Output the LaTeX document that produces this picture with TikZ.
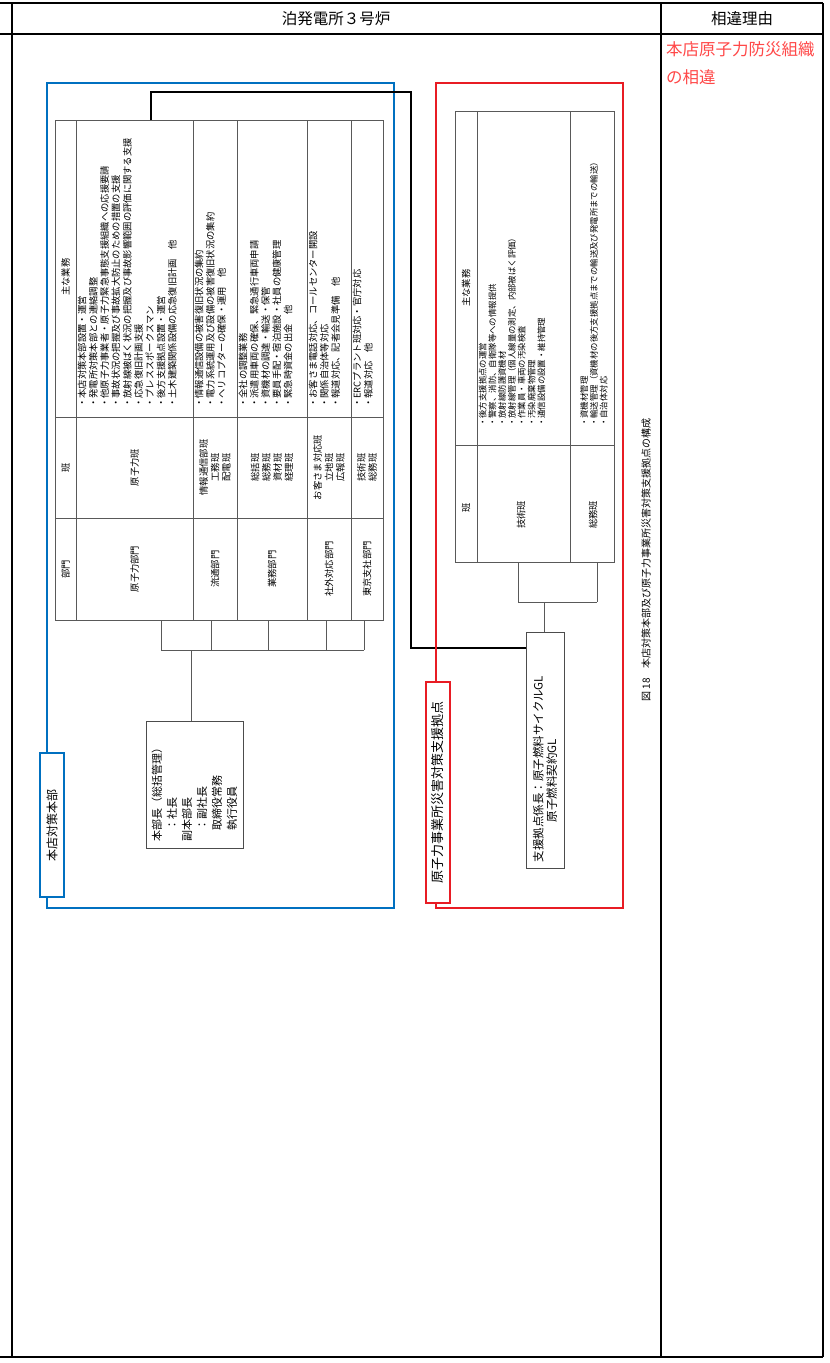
\documentclass[tikz,border=0pt]{standalone}
\usepackage{fontspec}
\setmainfont{Noto Sans CJK JP}
\definecolor{hqblue}{RGB}{0,112,192}
\definecolor{sitered}{RGB}{232,28,36}
\definecolor{notered}{RGB}{255,72,72}

\tikzset{
  rule/.style={line width=1.8pt},
  cell/.style={draw=black!65, line width=0.8pt},
  link/.style={line width=1.6pt},
  vtxt/.style={rotate=90, inner sep=1pt, align=center, font=\fontsize{9.3}{11.3}\selectfont},
  duty/.style={vtxt, anchor=north west, align=left},
  sduty/.style={duty, font=\fontsize{8.4}{9.8}\selectfont},
  chart/.style={draw=black!70, line width=0.9pt, rotate=90, align=left},
  tag/.style={rotate=90, fill=white, line width=1.8pt, inner sep=1pt, minimum height=24pt},
}

\begin{document}
\begin{tikzpicture}[x=1pt, y=-1pt]
\useasboundingbox (0,0) rectangle (830,1363);

% comparison table frame
\draw[rule] (0,3) -- (823,3);
\draw[rule] (0,34) -- (823,34);
\draw[rule] (0,1357) -- (823,1357);
\foreach \x in {12,661,823} \draw[rule] (\x,3) -- (\x,1357);
\node[font=\fontsize{15.5}{18}\selectfont] (plant) at (336,19) {泊発電所３号炉};
\node[font=\fontsize{15.5}{18}\selectfont] (reason) at (742,19) {相違理由};
\node[anchor=north west, align=left, inner sep=1pt, text=notered,
  font=\fontsize{16.5}{28}\selectfont] (diff) at (665,40) {本店原子力防災組織\\の相違};

% link between the two organisations
\coordinate (hqlink) at (151,120);
\coordinate (linkbend) at (411,648);

% 本店対策本部
\draw[hqblue, line width=1.8pt] (47,83) rectangle (394,908);
\draw[cell] (55,120) rectangle (383,620);
\foreach \x in {76,193,237,307,351} \draw[cell] (\x,120) -- (\x,620);
\foreach \y in {417,518} \draw[cell] (55,\y) -- (383,\y);

\node[vtxt] (hdept) at (65.5,569) {部門};
\node[vtxt] (hteam) at (65.5,467.5) {班};
\node[vtxt] (hduty) at (65.5,277) {主な業務};

\node[vtxt] (dnuc) at (134.5,569) {原子力部門};
\node[vtxt] (ddist) at (215,569) {流通部門};
\node[vtxt] (dbiz) at (272,569) {業務部門};
\node[vtxt] (dext) at (329,569) {社外対応部門};
\node[vtxt] (dtok) at (367,569) {東京支社部門};

\node[vtxt] (tnuc) at (134.5,467.5) {原子力班};
\node[vtxt] (tdist) at (215,467.5) {情報通信部班\\工務班\\配電班};
\node[vtxt] (tbiz) at (272,467.5) {総括班\\総務班\\資材班\\経理班};
\node[vtxt] (text) at (329,467.5) {お客さま対応班\\立地班\\広報班};
\node[vtxt] (ttok) at (367,467.5) {技術班\\総務班};

\node[duty] (wnuc) at (76.5,409) {・本店対策本部設置・運営\\
  ・発電所対策本部との連絡調整\\
  ・他原子力事業者・原子力緊急事態支援組織への応援要請\\
  ・事故状況の把握及び事故拡大防止のための措置の支援\\
  ・放射線被ばく状況の把握及び事故影響範囲の評価に関する支援\\
  ・応急復旧計画支援\\
  ・プレススポークスマン\\
  ・後方支援拠点設置・運営\\
  ・土木建築関係設備の応急復旧計画　他};
\node[duty] (wdist) at (193.5,409) {・情報通信設備の被害復旧状況の集約\\
  ・電力系統運用及び設備の被害復旧状況の集約\\
  ・ヘリコプターの確保・運用　他};
\node[duty] (wbiz) at (237.5,409) {・全社の調整業務\\
  ・派遣用車両の確保、緊急通行車両申請\\
  ・資機材の調達・輸送・保管\\
  ・要員手配・宿泊施設・社員の健康管理\\
  ・緊急時資金の出金　他};
\node[duty] (wext) at (307.5,409) {・お客さま電話対応、コールセンター開設\\
  ・関係自治体等対応\\
  ・報道対応、記者会見準備　他};
\node[duty] (wtok) at (351.5,409) {・ERCプラント班対応・官庁対応\\
  ・報道対応　他};

\node[chart, minimum width=127pt, minimum height=97pt, text width=113pt, inner sep=5pt,
  font=\fontsize{11}{15}\selectfont] (boss) at (194.5,784.5)
  {本部長（総括管理）\\\hspace*{1em}：社長\\副本部長\\\hspace*{1em}：副社長\\\hspace*{1em}取締役常務\\\hspace*{1em}執行役員};

\foreach \x in {161,211,268,326,364} \draw[cell] (\x,620) -- (\x,650);
\draw[cell] (161,650) -- (364,650);
\coordinate (hqfork) at (191,650);
\draw[cell] (hqfork) -- (hqfork |- boss.east);

\node[tag, draw=hqblue, minimum width=144pt, font=\fontsize{12}{14}\selectfont] (hqtag) at (52,825) {本店対策本部};

% 原子力事業所災害対策支援拠点
\node[chart, minimum width=236pt, minimum height=38pt, text width=224pt, inner sep=6pt,
  font=\fontsize{11.5}{13.3}\selectfont] (support) at (545,750)
  {支援拠点係長：原子燃料サイクルGL\\\hspace*{40pt}原子燃料契約GL};

\draw[link] (hqlink) -- (151,92) -- (411,92) -- (linkbend) -- (linkbend -| support.north);

\draw[sitered, line width=1.8pt] (436,83) rectangle (623,908);
\draw[cell] (455,111) rectangle (614,562);
\foreach \x in {477,570} \draw[cell] (\x,111) -- (\x,562);
\draw[cell] (455,445) -- (614,445);

\node[vtxt] (sduty) at (466,288) {主な業務};
\node[vtxt] (steam) at (466,508) {班};
\node[vtxt] (stech) at (521,515) {技術班};
\node[vtxt] (sgen) at (593,515) {総務班};

\node[sduty] (wtech) at (477.5,428) {・後方支援拠点の運営\\
  ・警察、消防、自衛隊等への情報提供\\
  ・放射線防護資機材\\
  ・放射線管理（個人線量の測定、内部被ばく評価）\\
  ・作業員・車両の汚染検査\\
  ・汚染廃棄物管理\\
  ・通信設備の設置・維持管理};
\node[sduty] (wgen) at (579,428) {・資機材管理\\
  ・輸送管理（資機材の後方支援拠点までの輸送及び発電所までの輸送）\\
  ・自治体対応};

\foreach \x in {518,597} \draw[cell] (\x,562) -- (\x,602);
\draw[cell] (518,602) -- (597,602);
\coordinate (sitefork) at (544,602);
\draw[cell] (sitefork) -- (sitefork |- support.east);

\node[tag, draw=sitered, minimum width=221pt, font=\fontsize{13}{15}\selectfont] (sitetag) at (438,792.5) {原子力事業所災害対策支援拠点};

% caption
\node[vtxt, font=\fontsize{10}{12}\selectfont] (caption) at (646,560) {図 18　本店対策本部及び原子力事業所災害対策支援拠点の構成};
\end{tikzpicture}
\end{document}
